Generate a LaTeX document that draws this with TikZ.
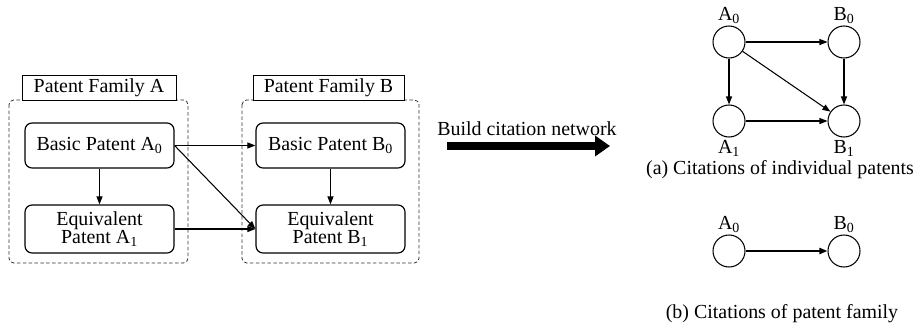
\documentclass[tikz,border=0pt]{standalone}
\usepackage{fontspec}
\setmainfont{Liberation Serif}
\usepackage{tikz}
\usetikzlibrary{arrows.meta, positioning}
\def\boxW{4.47cm}
\def\nodeSize{0.96}
\newcommand{\famframe}[4]{%
% #1,#2 = top left corner, #3,#4 = bottom right corner (pixels)
\draw[dash pattern=on 3pt off 2pt, rounded corners=4pt, line width=0.7pt, black!80] (#1,#2) rectangle (#3,#4);
}

\begin{document}
\begin{tikzpicture}[
    x=0.03cm, y=-0.03cm,
    font=\fontsize{17}{19}\selectfont,
    >={Triangle[length=2.4mm,width=1.8mm]},
    pbox/.style={draw, rounded corners=6pt, line width=1pt, minimum width=\boxW, align=center, inner sep=2pt},
    famlabel/.style={draw, fill=white, line width=0.7pt, minimum height=0.75cm, inner sep=2pt},
    pnode/.style={circle, draw, line width=0.9pt, minimum size=\nodeSize cm},
    cite/.style={->, line width=0.9pt}
]
\useasboundingbox (0,0) rectangle (924,329);

% patent families
\famframe{9}{100}{188}{263}
\famframe{242}{100}{419}{263}
\node[famlabel, minimum width=4.62cm] (famA) at (99,87.5) {Patent Family A};
\node[famlabel, minimum width=4.53cm] (famB) at (328.5,87.5) {Patent Family B};

\node[pbox, minimum height=1.35cm] (A0) at (99.5,145.5) {Basic Patent A\textsubscript{0}};
\node[pbox, minimum height=1.44cm] (A1) at (99.5,229) {Equivalent\\[-3pt]Patent A\textsubscript{1}};
\node[pbox, minimum height=1.35cm] (B0) at (330.5,145.5) {Basic Patent B\textsubscript{0}};
\node[pbox, minimum height=1.44cm] (B1) at (330.5,229) {Equivalent\\[-3pt]Patent B\textsubscript{1}};

\draw[cite] (A0) -- (A1);
\draw[cite] (B0) -- (B1);
\draw[cite] (A0.east) -- (B0.west);
\draw[cite] (A0.east) -- (B1.west);
\draw[cite] (A1.east) -- (B1.west);

% build arrow
\coordinate (bs) at (447,146);
\coordinate (be) at (610,146);
\draw[-{Triangle[length=0.45cm,width=0.6cm]}, line width=6pt] (bs) -- (be);
\node (build) at (527,129) {Build citation network};

% (a) individual patents
\node[pnode] (a0) at (729,42) {};
\node[pnode] (b0) at (844,42) {};
\node[pnode] (a1) at (729,121) {};
\node[pnode] (b1) at (844,121) {};
\node[above=-2pt of a0] (la0) {A\textsubscript{0}};
\node[above=-2pt of b0] (lb0) {B\textsubscript{0}};
\node[below=-1pt of a1] (la1) {A\textsubscript{1}};
\node[below=-1pt of b1] (lb1) {B\textsubscript{1}};
\draw[cite] (a0) -- (b0);
\draw[cite] (a0) -- (a1);
\draw[cite] (a0) -- (b1);
\draw[cite] (b0) -- (b1);
\draw[cite] (a1) -- (b1);
\node (capa) at (780,170) {(a) Citations of individual patents};

% (b) patent family
\node[pnode] (fa) at (729,251) {};
\node[pnode] (fb) at (844,251) {};
\node[above=-2pt of fa] (lfa) {A\textsubscript{0}};
\node[above=-2pt of fb] (lfb) {B\textsubscript{0}};
\draw[cite, line width=1.6pt] (fa) -- (fb);
\node (capb) at (782,314) {(b) Citations of patent family};
\end{tikzpicture}
\end{document}
